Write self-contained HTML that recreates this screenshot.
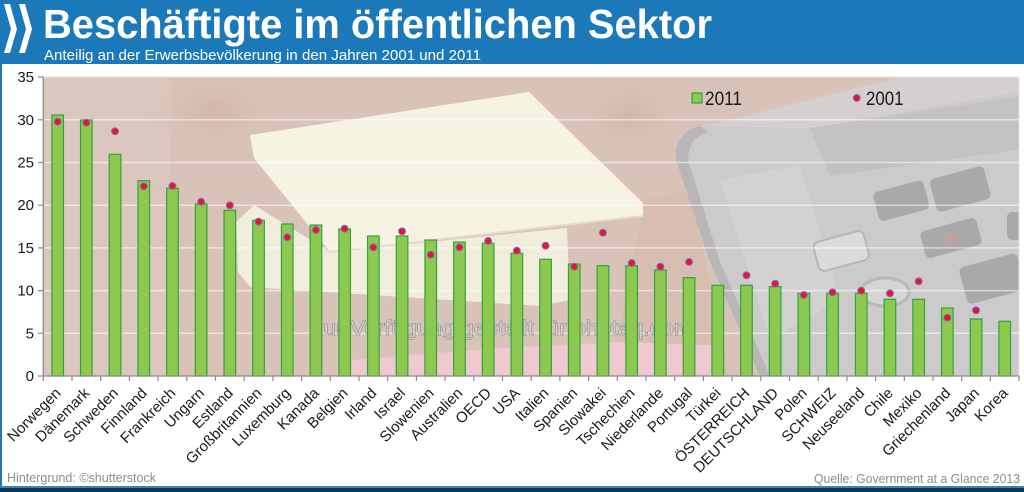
<!DOCTYPE html>
<html><head><meta charset="utf-8"><style>
html,body{margin:0;padding:0;background:#fff;width:1024px;height:492px;overflow:hidden}
svg{display:block;font-family:"Liberation Sans",Arial,sans-serif}
</style></head><body>
<svg width="1024" height="492" viewBox="0 0 1024 492" xmlns="http://www.w3.org/2000/svg">
<defs>
<clipPath id="pc"><rect x="43" y="77" width="976" height="299"/></clipPath>
<radialGradient id="rg1"><stop offset="0" stop-color="#d2b6aa"/><stop offset="1" stop-color="#d9c3b8" stop-opacity="0"/></radialGradient>
</defs>
<rect width="1024" height="492" fill="#fff"/>
<!-- header -->
<rect x="0" y="0" width="1024" height="64" fill="#1b79b9"/>
<polygon points="4,4 10,4 17,29 10,53 4,53 11,29" fill="#fff"/>
<polygon points="19,4 25,4 32,29 25,53 19,53 26,29" fill="#fff"/>
<text x="43" y="38" font-size="41" font-weight="bold" fill="#fff" textLength="669" lengthAdjust="spacingAndGlyphs">Beschäftigte im öffentlichen Sektor</text>
<text x="44" y="60" font-size="15" fill="#fff" textLength="437" lengthAdjust="spacingAndGlyphs">Anteilig an der Erwerbsbevölkerung in den Jahren 2001 und 2011</text>
<rect x="0" y="64" width="2" height="428" fill="#1b79b9"/>
<rect x="0" y="486" width="1024" height="2" fill="#2a88c8"/>
<rect x="0" y="488" width="1024" height="4" fill="#15324f"/>

<!-- background photo approximation -->
<g clip-path="url(#pc)">
<rect x="30" y="70" width="1000" height="320" fill="#d9c3b8"/>
<rect x="30" y="70" width="140" height="320" fill="#dbc7bd"/>
<ellipse cx="215" cy="110" rx="75" ry="45" fill="url(#rg1)"/>
<ellipse cx="630" cy="115" rx="60" ry="45" fill="url(#rg1)"/>
<polygon points="645,200 690,190 730,376 610,376" fill="#d7bdb2"/>
<!-- lower pad -->
<polygon points="236,222 254,205 330,252 567,228 570,300 540,306 250,287 238,272" fill="#f1eddc"/>
<!-- top pad -->
<polygon points="250,135 529,92 643,203 643,216 330,252 254,158" fill="#f6f3e3"/>
<line x1="330" y1="252" x2="643" y2="216" stroke="#e4dccb" stroke-width="2"/>
<!-- pink notes -->
<polygon points="352,360 500,348 620,342 712,345 720,376 350,376" fill="#efc8d0"/>
<!-- laptop -->
<path d="M700,126 Q674,132 676,160 L710,262 L760,376 L1030,376 L1030,70 L960,70 Z" fill="#cccacb"/>
<path d="M700,126 Q674,132 676,160 L710,262 L760,376 L770,376 L720,262 L688,160 Q688,138 708,132 Z" fill="#b8b6b7"/>
<polygon points="930,70 1030,70 1030,90 810,128 705,126" fill="#d5d0d0"/>
<polygon points="810,128 1030,95 1030,148 830,176" fill="#c3c1c2"/>
<polygon points="720,180 800,165 840,300 770,340" fill="#d3d1d2"/>
<g fill="#aaa8a9">
<rect x="875" y="186" width="52" height="30" rx="5" transform="rotate(-15 900 200)"/>
<rect x="932" y="172" width="56" height="34" rx="5" transform="rotate(-15 960 188)"/>
<rect x="922" y="224" width="58" height="28" rx="5" transform="rotate(-15 951 238)"/>
<rect x="962" y="260" width="60" height="38" rx="5" transform="rotate(-15 991 278)"/>
<rect x="1007" y="212" width="30" height="28" rx="5"/>
</g>
<circle cx="951" cy="238" r="4" fill="#d49a9a"/>
<rect x="815" y="236" width="52" height="30" rx="6" fill="#dcdada" stroke="#b7b5b5" stroke-width="2" transform="rotate(-15 841 250)"/>
<ellipse cx="885" cy="292" rx="24" ry="14" fill="#d6d4d4" stroke="#b9b7b7" stroke-width="3"/>
<!-- gridlines -->
<g stroke="#ffffff" stroke-opacity="0.55" stroke-width="1.5">
<line x1="43" y1="333.3" x2="1019" y2="333.3"/>
<line x1="43" y1="290.6" x2="1019" y2="290.6"/>
<line x1="43" y1="247.9" x2="1019" y2="247.9"/>
<line x1="43" y1="205.2" x2="1019" y2="205.2"/>
<line x1="43" y1="162.5" x2="1019" y2="162.5"/>
<line x1="43" y1="119.8" x2="1019" y2="119.8"/>
</g>
</g>
<rect x="43" y="77" width="976" height="299" fill="none" stroke="#e6e2e2" stroke-width="1"/>

<!-- watermark -->
<text x="312" y="335" font-size="21" fill="#d0d0d0" stroke="#505050" stroke-width="0.6" paint-order="stroke" textLength="381" lengthAdjust="spacingAndGlyphs">zur Verfügung gestellt für photaq.com</text>

<!-- bars -->
<g fill="#8dc951" stroke="#33a23c" stroke-width="1.2">
<rect x="51.85" y="115" width="11.6" height="261"/>
<rect x="80.55" y="120" width="11.6" height="256"/>
<rect x="109.25" y="154.3" width="11.6" height="221.7"/>
<rect x="137.95" y="180.7" width="11.6" height="195.3"/>
<rect x="166.65" y="188.3" width="11.6" height="187.7"/>
<rect x="195.35" y="204" width="11.6" height="172"/>
<rect x="224.05" y="210.3" width="11.6" height="165.7"/>
<rect x="252.75" y="220.3" width="11.6" height="155.7"/>
<rect x="281.45" y="224" width="11.6" height="152"/>
<rect x="310.15" y="225" width="11.6" height="151"/>
<rect x="338.85" y="229" width="11.6" height="147"/>
<rect x="367.55" y="236" width="11.6" height="140"/>
<rect x="396.25" y="236" width="11.6" height="140"/>
<rect x="424.95" y="240" width="11.6" height="136"/>
<rect x="453.65" y="242" width="11.6" height="134"/>
<rect x="482.35" y="243.3" width="11.6" height="132.7"/>
<rect x="511.05" y="253.3" width="11.6" height="122.7"/>
<rect x="539.75" y="259.3" width="11.6" height="116.7"/>
<rect x="568.45" y="264" width="11.6" height="112"/>
<rect x="597.15" y="265.7" width="11.6" height="110.3"/>
<rect x="625.85" y="265.7" width="11.6" height="110.3"/>
<rect x="654.55" y="270" width="11.6" height="106"/>
<rect x="683.25" y="277.7" width="11.6" height="98.3"/>
<rect x="711.95" y="285.3" width="11.6" height="90.7"/>
<rect x="740.65" y="285.3" width="11.6" height="90.7"/>
<rect x="769.35" y="286.7" width="11.6" height="89.3"/>
<rect x="798.05" y="293.3" width="11.6" height="82.7"/>
<rect x="826.75" y="293.3" width="11.6" height="82.7"/>
<rect x="855.45" y="293.3" width="11.6" height="82.7"/>
<rect x="884.15" y="299.3" width="11.6" height="76.7"/>
<rect x="912.85" y="299.3" width="11.6" height="76.7"/>
<rect x="941.55" y="308" width="11.6" height="68"/>
<rect x="970.25" y="319" width="11.6" height="57"/>
<rect x="998.95" y="321.3" width="11.6" height="54.7"/>
</g>

<!-- dots -->
<g fill="#f2102c" stroke="#7a6fb4" stroke-width="1.1">
<circle cx="57.65" cy="121.7" r="3.4"/>
<circle cx="86.35" cy="122.7" r="3.4"/>
<circle cx="115.05" cy="131.3" r="3.4"/>
<circle cx="143.75" cy="186.3" r="3.4"/>
<circle cx="172.45" cy="186" r="3.4"/>
<circle cx="201.15" cy="201.7" r="3.4"/>
<circle cx="229.85" cy="205.3" r="3.4"/>
<circle cx="258.55" cy="221.7" r="3.4"/>
<circle cx="287.25" cy="237.3" r="3.4"/>
<circle cx="315.95" cy="230" r="3.4"/>
<circle cx="344.65" cy="228.7" r="3.4"/>
<circle cx="373.35" cy="247.3" r="3.4"/>
<circle cx="402.05" cy="231.3" r="3.4"/>
<circle cx="430.75" cy="254.7" r="3.4"/>
<circle cx="459.45" cy="247.3" r="3.4"/>
<circle cx="488.15" cy="241" r="3.4"/>
<circle cx="516.85" cy="250.7" r="3.4"/>
<circle cx="545.55" cy="245.7" r="3.4"/>
<circle cx="574.25" cy="266.7" r="3.4"/>
<circle cx="602.95" cy="232.7" r="3.4"/>
<circle cx="631.65" cy="263" r="3.4"/>
<circle cx="660.35" cy="266.7" r="3.4"/>
<circle cx="689.05" cy="262" r="3.4"/>
<circle cx="746.45" cy="275.3" r="3.4"/>
<circle cx="775.15" cy="283.7" r="3.4"/>
<circle cx="803.85" cy="295" r="3.4"/>
<circle cx="832.55" cy="292.3" r="3.4"/>
<circle cx="861.25" cy="290.7" r="3.4"/>
<circle cx="889.95" cy="293.3" r="3.4"/>
<circle cx="918.65" cy="281.3" r="3.4"/>
<circle cx="947.35" cy="317.7" r="3.4"/>
<circle cx="976.05" cy="310.3" r="3.4"/>
</g>

<!-- legend -->
<rect x="692" y="93" width="10" height="10" fill="#8dc951" stroke="#33a23c" stroke-width="1.2"/>
<text x="705" y="105" font-size="19.5" fill="#1a1a1a" textLength="37" lengthAdjust="spacingAndGlyphs">2011</text>
<circle cx="856.7" cy="98" r="3.4" fill="#f2102c" stroke="#7a6fb4" stroke-width="1.1"/>
<text x="866" y="105" font-size="19.5" fill="#1a1a1a" textLength="37.5" lengthAdjust="spacingAndGlyphs">2001</text>

<!-- axes -->
<g stroke="#8a8a8a" stroke-width="1.2" fill="none">
<line x1="43.3" y1="77" x2="43.3" y2="376"/>
<line x1="43.3" y1="376" x2="1019" y2="376"/>
<path d="M38,77H43M38,119.8H43M38,162.5H43M38,205.2H43M38,247.9H43M38,290.6H43M38,333.3H43M38,376H43"/>
<path d="M43.3,376v5M72,376v5M100.7,376v5M129.4,376v5M158.1,376v5M186.8,376v5M215.5,376v5M244.2,376v5M272.9,376v5M301.6,376v5M330.3,376v5M359,376v5M387.7,376v5M416.4,376v5M445.1,376v5M473.8,376v5M502.5,376v5M531.2,376v5M559.9,376v5M588.6,376v5M617.3,376v5M646,376v5M674.7,376v5M703.4,376v5M732.1,376v5M760.8,376v5M789.5,376v5M818.2,376v5M846.9,376v5M875.6,376v5M904.3,376v5M933,376v5M961.7,376v5M990.4,376v5M1019,376v5"/>
</g>
<g font-size="15" fill="#1a1a1a" text-anchor="end">
<text x="34" y="82">35</text>
<text x="34" y="125">30</text>
<text x="34" y="167.5">25</text>
<text x="34" y="210">20</text>
<text x="34" y="253">15</text>
<text x="34" y="295.6">10</text>
<text x="34" y="338.3">5</text>
<text x="34" y="381">0</text>
</g>

<!-- x labels -->
<g font-size="15" fill="#1a1a1a" text-anchor="end">
<text transform="translate(61.65,394) rotate(-45)">Norwegen</text>
<text transform="translate(90.35,394) rotate(-45)">Dänemark</text>
<text transform="translate(119.05,394) rotate(-45)">Schweden</text>
<text transform="translate(147.75,394) rotate(-45)">Finnland</text>
<text transform="translate(176.45,394) rotate(-45)">Frankreich</text>
<text transform="translate(205.15,394) rotate(-45)">Ungarn</text>
<text transform="translate(233.85,394) rotate(-45)">Estland</text>
<text transform="translate(262.55,394) rotate(-45)">Großbritannien</text>
<text transform="translate(291.25,394) rotate(-45)">Luxemburg</text>
<text transform="translate(319.95,394) rotate(-45)">Kanada</text>
<text transform="translate(348.65,394) rotate(-45)">Belgien</text>
<text transform="translate(377.35,394) rotate(-45)">Irland</text>
<text transform="translate(406.05,394) rotate(-45)">Israel</text>
<text transform="translate(434.75,394) rotate(-45)">Slowenien</text>
<text transform="translate(463.45,394) rotate(-45)">Australien</text>
<text transform="translate(492.15,394) rotate(-45)">OECD</text>
<text transform="translate(520.85,394) rotate(-45)">USA</text>
<text transform="translate(549.55,394) rotate(-45)">Italien</text>
<text transform="translate(578.25,394) rotate(-45)">Spanien</text>
<text transform="translate(606.95,394) rotate(-45)">Slowakei</text>
<text transform="translate(635.65,394) rotate(-45)">Tschechien</text>
<text transform="translate(664.35,394) rotate(-45)">Niederlande</text>
<text transform="translate(693.05,394) rotate(-45)">Portugal</text>
<text transform="translate(721.75,394) rotate(-45)">Türkei</text>
<text transform="translate(750.45,394) rotate(-45)">ÖSTERREICH</text>
<text transform="translate(779.15,394) rotate(-45)">DEUTSCHLAND</text>
<text transform="translate(807.85,394) rotate(-45)">Polen</text>
<text transform="translate(836.55,394) rotate(-45)">SCHWEIZ</text>
<text transform="translate(865.25,394) rotate(-45)">Neuseeland</text>
<text transform="translate(893.95,394) rotate(-45)">Chile</text>
<text transform="translate(922.65,394) rotate(-45)">Mexiko</text>
<text transform="translate(951.35,394) rotate(-45)">Griechenland</text>
<text transform="translate(980.05,394) rotate(-45)">Japan</text>
<text transform="translate(1008.75,394) rotate(-45)">Korea</text>
</g>

<!-- footer -->
<text x="7" y="482" font-size="12.5" fill="#8c8c8c" textLength="149" lengthAdjust="spacingAndGlyphs">Hintergrund: ©shutterstock</text>
<text x="1020" y="483" font-size="12.5" fill="#8c8c8c" text-anchor="end" textLength="206" lengthAdjust="spacingAndGlyphs">Quelle: Government at a Glance 2013</text>
</svg>
</body></html>
